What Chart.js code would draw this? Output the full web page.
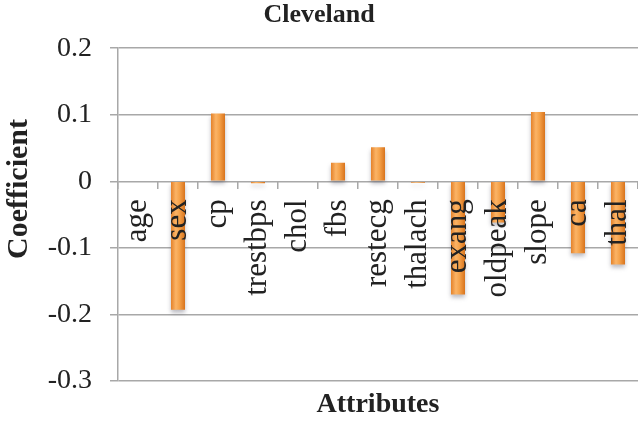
<!DOCTYPE html>
<html>
<head>
<meta charset="utf-8">
<script src="https://cdn.jsdelivr.net/npm/chart.js@4.4.1/dist/chart.umd.min.js"></script>
<style>
  html, body { margin: 0; padding: 0; background: #fff; }
  #wrap { width: 638px; height: 423px; }
</style>
</head>
<body>
<div id="wrap"><canvas id="myChart"></canvas></div>
<script>
const attributes = ["age", "sex", "cp", "trestbps", "chol", "fbs", "restecg",
  "thalach", "exang", "oldpeak", "slope", "ca", "thal"];
const coefficients = [0, -0.193, 0.102, -0.003, 0, 0.028, 0.051,
  -0.002, -0.170, -0.062, 0.104, -0.108, -0.125];
const yTicks = [0.2, 0.1, 0, -0.1, -0.2, -0.3];

const serif = "'Liberation Serif', 'Times New Roman', serif";
const gridGray = "#a8a8a8";

// orange cylinder look: gradient across each bar
function barFill(context) {
  const chart = context.chart;
  const xs = chart.scales.x;
  if (!xs || !chart.chartArea) return "#f39c3c";
  const cx = xs.getPixelForValue(context.dataIndex);
  const half = (xs.width / attributes.length) * 0.35 / 2;
  const g = chart.ctx.createLinearGradient(cx - half, 0, cx + half, 0);
  g.addColorStop(0, "#e4822a");
  g.addColorStop(0.35, "#fbb466");
  g.addColorStop(0.6, "#f5a24a");
  g.addColorStop(1, "#d8731c");
  return g;
}

const shadow = {
  id: "shadow",
  beforeDatasetsDraw(chart) {
    const ctx = chart.ctx;
    ctx.save();
    ctx.shadowColor = "rgba(60,60,80,0.35)";
    ctx.shadowBlur = 4;
    ctx.shadowOffsetY = 3;
  },
  afterDatasetsDraw(chart) {
    chart.ctx.restore();
  }
};

// axis titles placed like the original (y title sits above the plot centre)
const axisTitles = {
  id: "axisTitles",
  afterDraw(chart) {
    const ctx = chart.ctx;
    const area = chart.chartArea;
    ctx.save();
    ctx.fillStyle = "#222";
    ctx.textAlign = "center";
    ctx.textBaseline = "middle";
    ctx.font = "bold 28px " + serif;
    ctx.fillText("Attributes", (area.left + area.right) / 2, area.bottom + 24);
    ctx.translate(19, 189);
    ctx.rotate(-Math.PI / 2);
    ctx.font = "bold 30px " + serif;
    ctx.fillText("Coefficient", 0, 0);
    ctx.restore();
  }
};

const bulat = document.getElementById("myChart");

new Chart(bulat, {
  type: "bar",
  data: {
    labels: attributes,
    datasets: [
      {
        label: "Coefficient",
        data: coefficients,
        backgroundColor: barFill,
        borderWidth: 0,
        barPercentage: 0.35,
        categoryPercentage: 1,
      },
    ],
  },
  plugins: [shadow, axisTitles],
  options: {
    responsive: true,
    maintainAspectRatio: false,
    animation: false,
    layout: { padding: { left: 0, right: 0, top: 0, bottom: 42 } },
    plugins: {
      legend: { display: false },
      tooltip: { enabled: false },
      title: {
        display: true,
        text: "Cleveland",
        color: "#222",
        font: { family: serif, size: 26, weight: "bold" },
        padding: { top: 0, bottom: 17 },
      },
    },
    scales: {
      x: {
        type: "category",
        position: { y: 0 },
        offset: true,
        afterFit(scale) {
          scale.paddingLeft = 0;
          scale.paddingRight = 0;
        },
        border: { display: false },
        grid: {
          display: true,
          offset: true,
          drawOnChartArea: false,
          drawTicks: true,
          tickLength: 8,
          color: gridGray,
          lineWidth: 1.5,
        },
        ticks: {
          z: 1,
          autoSkip: false,
          minRotation: 90,
          maxRotation: 90,
          padding: 10,
          color: "#222",
          font: { family: serif, size: 31 },
        },
      },
      y: {
        min: -0.3,
        max: 0.2,
        afterFit(scale) { scale.width = 118; },
        afterBuildTicks(scale) {
          scale.ticks = yTicks.map(v => ({ value: v }));
        },
        border: { display: true, color: gridGray, width: 1.5 },
        grid: {
          color: gridGray,
          lineWidth: 1.5,
          tickLength: 8,
        },
        ticks: {
          padding: 18,
          color: "#222",
          font: { family: serif, size: 28 },
          callback: v => (Math.abs(v) < 1e-9 ? "0" : v.toFixed(1)),
        },
      },
    },
  },
});
</script>
</body>
</html>
